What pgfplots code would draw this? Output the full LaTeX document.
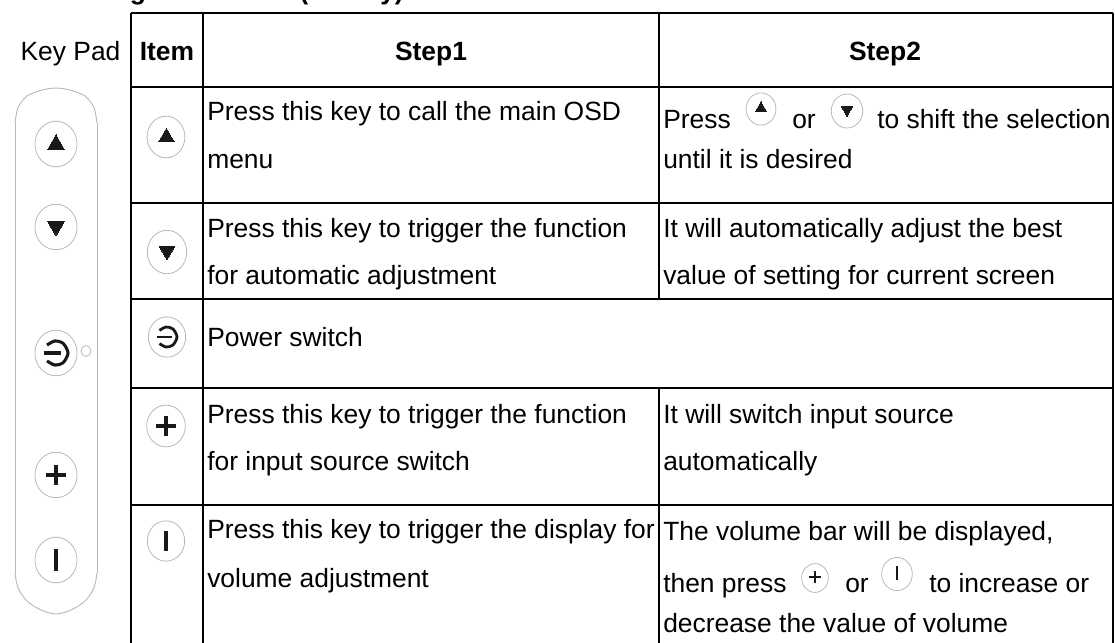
\documentclass[border=0pt]{standalone}
\usepackage{pgfplots}
\pgfplotsset{compat=1.18}
\usepackage{fontspec}
\setmainfont{Liberation Sans}
\definecolor{ring}{gray}{0.72}
\definecolor{ink}{gray}{0.1}
\newcommand{\T}[3]{\node[anchor=base west,inner sep=0pt,overlay,font=\fontsize{19.8pt}{22pt}\selectfont] at (axis cs:#1,#2) {#3};}
\newcommand{\B}[3]{\node[anchor=base,inner sep=0pt,overlay,font=\fontsize{19.8pt}{22pt}\selectfont\bfseries] at (axis cs:#1,#2) {#3};}
\newcommand{\HR}[3]{\addplot[black,line width=1.3pt,forget plot] coordinates {(#1,#3)(#2,#3)};}
\newcommand{\VR}[3]{\addplot[black,line width=1.3pt,forget plot] coordinates {(#1,#2)(#1,#3)};}
% ring: x, y, rx(pt), yscale
\newcommand{\Ring}[4]{\addplot[only marks,forget plot,mark=o,mark size=#3pt,mark options={ring,line width=0.6pt,yscale=#4}] coordinates {(#1,#2)};}
\newcommand{\Up}[3]{\addplot[only marks,forget plot,mark=triangle*,mark size=#3pt,mark options={ink,fill=ink,line width=0pt}] coordinates {(#1,#2)};}
\newcommand{\Dn}[3]{\addplot[only marks,forget plot,mark=triangle*,mark size=#3pt,mark options={ink,fill=ink,line width=0pt,rotate=180}] coordinates {(#1,#2)};}
\newcommand{\Plus}[4]{\addplot[ink,line width=#4pt,forget plot] coordinates {(#1-#3,#2)(#1+#3,#2)};\addplot[ink,line width=#4pt,forget plot] coordinates {(#1,#2-#3)(#1,#2+#3)};}
\newcommand{\Bar}[4]{\addplot[ink,line width=#4pt,forget plot] coordinates {(#1,#2-#3)(#1,#2+#3)};}
% power glyph: centre x,y, scale
\newcommand{\Pow}[4]{\addplot[ink,line width=#4pt,smooth,forget plot] coordinates {(#1-0.75*#3,#2-0.66*#3)(#1-0.1*#3,#2-#3)(#1+0.6*#3,#2-0.8*#3)(#1+#3,#2)(#1+0.6*#3,#2+0.8*#3)(#1-0.1*#3,#2+#3)(#1-0.75*#3,#2+0.66*#3)};
\addplot[ink,line width=#4pt,forget plot] coordinates {(#1-#3,#2)(#1+0.45*#3,#2)};}
\begin{document}
\begin{tikzpicture}
\begin{axis}[x=0.75pt,y=0.75pt,xmin=0,xmax=1115,ymin=0,ymax=643,y dir=reverse,
  hide axis,clip=true,scale only axis]
\path (axis cs:0,0) rectangle (axis cs:1115,643);
% table rules
\VR{131}{13}{643}\VR{203}{13}{643}\VR{659}{13}{299}\VR{659}{388}{643}\VR{1113}{13}{643}
\HR{131}{1113}{13}\HR{131}{1113}{87}\HR{131}{1113}{203}\HR{131}{1113}{299}\HR{131}{1113}{388}\HR{131}{1113}{505}
% key pad outline
\addplot[ring,line width=0.7pt,smooth,forget plot] coordinates {(15,123)(18.1,107.5)(27,96)(41,90.3)(56,88)(71,90.3)(85,96)(93.9,107.5)(97,123)};
\addplot[ring,line width=0.7pt,forget plot] coordinates {(15,123)(15,573)};
\addplot[ring,line width=0.7pt,forget plot] coordinates {(97,123)(97,573)};
\addplot[ring,line width=0.7pt,smooth,forget plot] coordinates {(15,573)(18.1,588)(27,601)(41,610)(56,614)(71,610)(85,601)(93.9,588)(97,573)};
% key pad buttons
\Ring{56}{144}{15.8}{1.08}\Up{56}{144.7}{7.3}
\Ring{56}{227}{15.8}{1.08}\Dn{56}{226}{7.3}
\Ring{56}{353}{15.8}{1.08}\Pow{56}{353}{12}{2.3}
\Ring{86}{351}{3.7}{1.1}
\Ring{56}{475}{15.8}{1.08}\Plus{56}{475}{10}{2.4}
\Ring{56}{560}{15.8}{1.08}\Bar{56}{560}{11}{2.5}
% item buttons
\Ring{166}{137}{14.2}{1.1}\Up{166.5}{137}{6.5}
\Ring{167}{252}{14.8}{1.1}\Dn{167}{251}{6.5}
\Ring{167}{337}{14}{1.08}\Pow{167}{337}{10}{2.1}
\Ring{166}{426}{14.5}{1.08}\Plus{166}{426}{10}{2.3}
\Ring{166}{541}{14}{1.08}\Bar{166}{541}{10}{2.3}
% inline buttons
\Ring{761}{109}{11.2}{1.08}\Up{761}{108}{4.6}
\Ring{847}{111}{11.8}{1.08}\Dn{847}{110}{4.6}
\Ring{815}{578}{10}{1.08}\Plus{815}{577}{6}{1.6}
\Ring{897}{574}{11.5}{1.08}\Bar{897}{573}{7}{1.7}
% fragments of the cut-off heading
\B{138}{-1}{g}\B{304}{-1}{(}\B{392}{-1}{y)}
% header
\B{70.5}{60}{\mdseries Key Pad}
\B{167}{60}{Item}\B{431}{60}{Step1}\B{885}{60}{Step2}
% row 1
\T{207}{120}{Press this key to call the main OSD}
\T{207}{168}{menu}
\T{663}{128}{Press}\T{792}{128}{or}\T{877}{128}{to shift the selection}
\T{663}{168}{until it is desired}
% row 2
\T{207}{237}{Press this key to trigger the function}
\T{207}{284.5}{for automatic adjustment}
\T{663}{237}{It will automatically adjust the best}
\T{663}{284.5}{value of setting for current screen}
% row 3
\T{207}{346}{Power switch}
% row 4
\T{207}{423}{Press this key to trigger the function}
\T{207}{470}{for input source switch}
\T{663}{423}{It will switch input source}
\T{663}{470}{automatically}
% row 5
\T{207}{538}{Press this key to trigger the display for}
\T{207}{587}{volume adjustment}
\T{663}{540}{The volume bar will be displayed,}
\T{663}{592}{then press}\T{845}{592}{or}\T{929}{592}{to increase or}
\T{663}{632}{decrease the value of volume}
\end{axis}
\end{tikzpicture}
\end{document}
